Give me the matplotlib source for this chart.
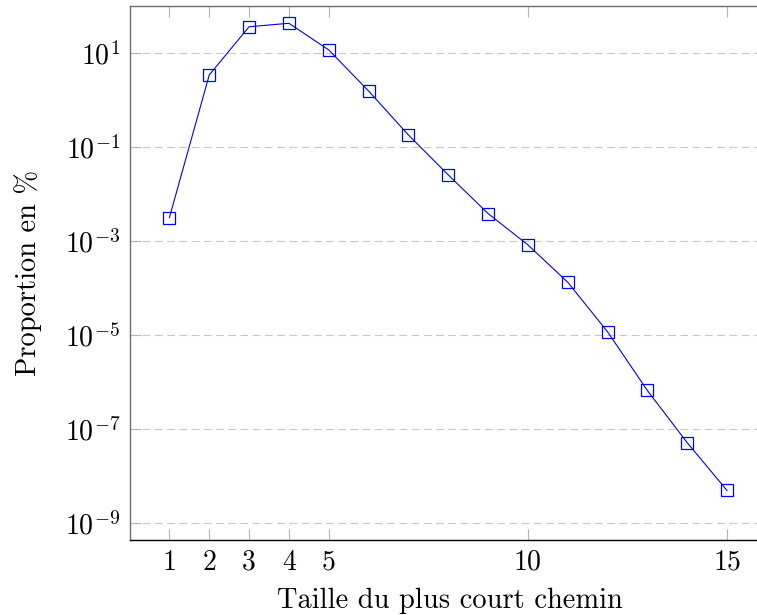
import matplotlib
matplotlib.use("Agg")
import matplotlib.pyplot as plt
from matplotlib.ticker import FixedLocator, NullLocator

# Répartition des tailles de plus court chemin (en %)
taille = [1, 2, 3, 4, 5, 6, 7, 8, 9, 10, 11, 12, 13, 14, 15]
proportion = [3.2e-3, 3.46, 36.7, 43.5, 11.8, 1.58, 0.183, 0.0259, 3.9e-3,
              8.4e-4, 1.35e-4, 1.19e-5, 6.7e-7, 5.2e-8, 5.0e-9]
xticks = [1, 2, 3, 4, 5, 10, 15]
yticks = [1e1, 1e-1, 1e-3, 1e-5, 1e-7, 1e-9]

plt.rcParams['font.family'] = 'cmr10'
plt.rcParams['mathtext.fontset'] = 'cm'
plt.rcParams['axes.formatter.use_mathtext'] = True

fig = plt.figure(figsize=(7.57, 6.15), dpi=100)
ax = fig.add_axes([130 / 757, 75.5 / 615, 640 / 757, 533.5 / 615])

ax.plot(taille, proportion, color='#0000ff', lw=0.8, marker='s', ms=8,
        mfc='none', mec='#0000ff', mew=0.9)

ax.set_yscale('log')
ax.set_xlim(0.01, 16.08)
ax.set_ylim(10 ** -9.345, 10 ** 2.006)

ax.set_xticks(xticks)
ax.set_xticklabels([str(t) for t in xticks])
ax.yaxis.set_major_locator(FixedLocator(yticks))
ax.yaxis.set_minor_locator(NullLocator())

ax.grid(axis='y', color='#c8c8c8', lw=0.8, ls=(0, (7, 4)))
ax.tick_params(direction='in', length=8, width=0.8, color='#b4b4b4',
               top=True, labelsize=20, pad=7)

for s in ['left', 'top']:
    ax.spines[s].set_color('#6e6e6e')
ax.spines['right'].set_visible(False)
ax.spines['bottom'].set_color('black')
for s in ax.spines.values():
    s.set_linewidth(1.0)

ax.set_xlabel('Taille du plus court chemin', fontsize=20.5, labelpad=9)
ax.set_ylabel('Proportion en %', fontsize=20.5, labelpad=16)

fig.savefig('out.png', dpi=100)
